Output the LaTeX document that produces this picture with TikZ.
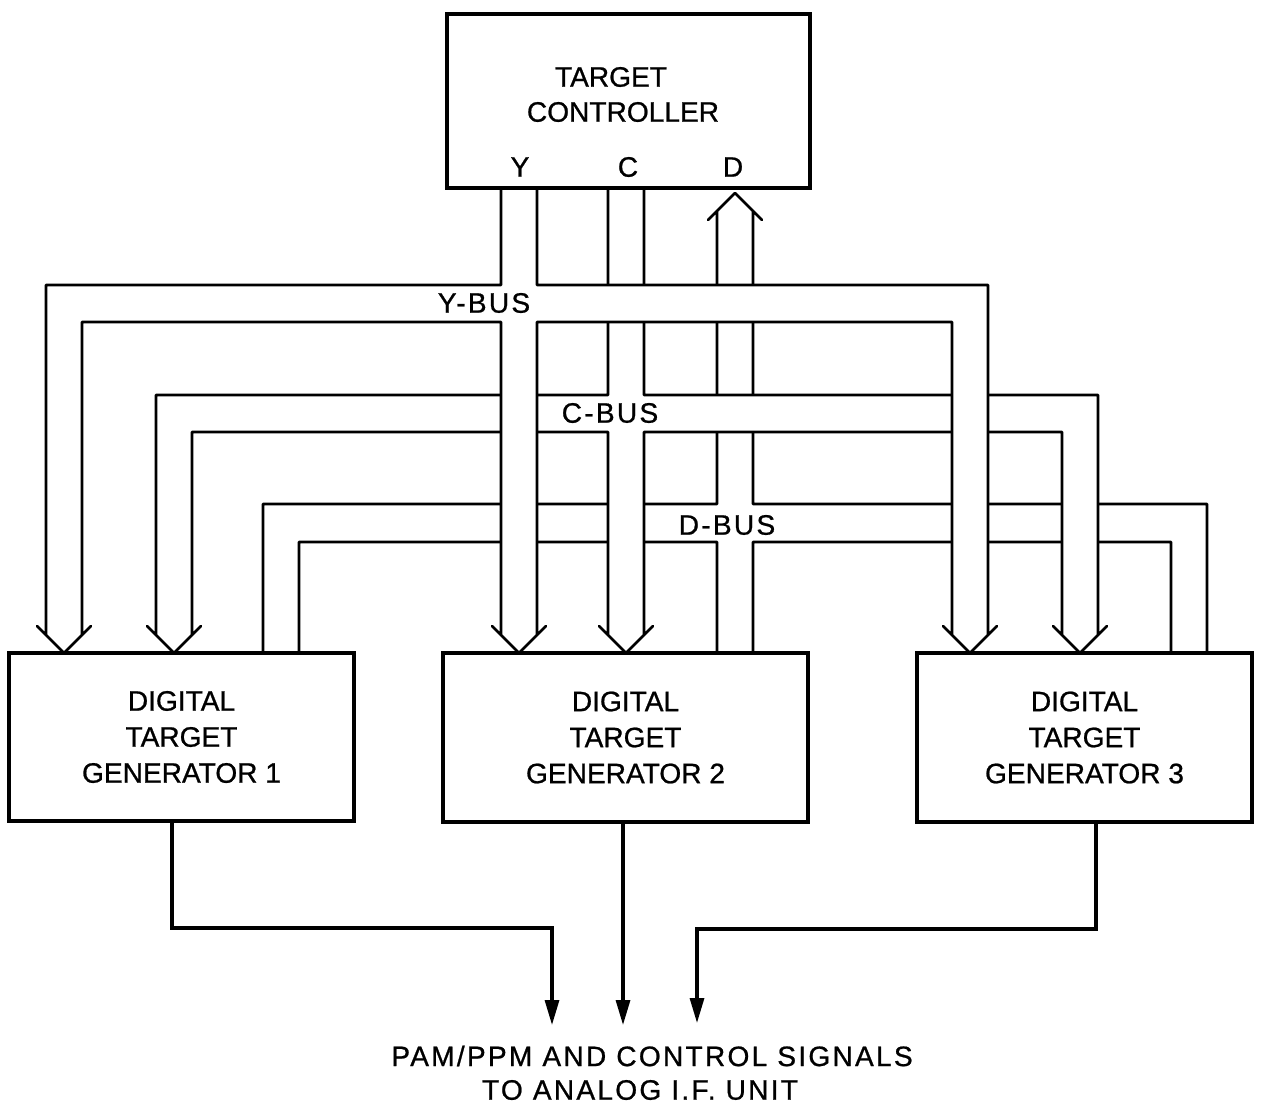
\documentclass[tikz,border=0pt]{standalone}
\usepackage{fontspec}
\setmainfont[FakeBold=0.8]{Liberation Sans}
\newfontfamily\spacedfont[LetterSpace=8,FakeBold=0.8]{Liberation Sans}
\usetikzlibrary{arrows.meta}
\begin{document}
\begin{tikzpicture}[x=0.02cm,y=-0.02cm,
  bus/.style={draw=black, fill=white, line width=1.5pt, line join=round},
  box/.style={draw=black, line width=2.5pt, inner sep=0pt},
  lbl/.style={font=\fontsize{16}{20.5}\selectfont, align=center, inner sep=0pt},
  lblsp/.style={font=\spacedfont\fontsize{16}{20}\selectfont, align=center, inner sep=0pt},
  sig/.style={draw=black, line width=1.8pt, -{Triangle[length=0.5cm,width=0.28cm]}}]
\useasboundingbox (0,0) rectangle (1266,1104);

% D-bus (drawn first, lowest)
\draw[bus] (717,653) -- (717,542) -- (299,542) -- (299,653) -- (263,653) -- (263,504)
  -- (717,504) -- (717,211) -- (708,220) -- (735,193) -- (762,220) -- (753,211)
  -- (753,504) -- (1207,504) -- (1207,653) -- (1171,653) -- (1171,542) -- (753,542)
  -- (753,653) -- cycle;

% C-bus
\draw[bus] (608,188) -- (608,395) -- (156,395)
  -- (156,635) -- (147,626) -- (174,653) -- (201,626) -- (192,635)
  -- (192,432) -- (608,432)
  -- (608,635) -- (599,626) -- (626,653) -- (653,626) -- (644,635)
  -- (644,432) -- (1062,432)
  -- (1062,635) -- (1053,626) -- (1080,653) -- (1107,626) -- (1098,635)
  -- (1098,395) -- (644,395) -- (644,188) -- cycle;

% Y-bus
\draw[bus] (501,188) -- (501,285) -- (46,285)
  -- (46,635) -- (37,626) -- (64,653) -- (91,626) -- (82,635)
  -- (82,322) -- (501,322)
  -- (501,635) -- (492,626) -- (519,653) -- (546,626) -- (537,635)
  -- (537,322) -- (952,322)
  -- (952,635) -- (943,626) -- (970,653) -- (997,626) -- (988,635)
  -- (988,285) -- (537,285) -- (537,188) -- cycle;

% boxes
\node[box, minimum width=7.26cm, minimum height=3.48cm] (ctl) at (628.5,101) {};
\node[box, lbl, minimum width=6.9cm, minimum height=3.36cm] (g1) at (181.5,737) {DIGITAL\\TARGET\\GENERATOR 1};
\node[box, lbl, minimum width=7.3cm, minimum height=3.38cm] (g2) at (625.5,737.5) {DIGITAL\\TARGET\\GENERATOR 2};
\node[box, lbl, minimum width=6.7cm, minimum height=3.38cm] (g3) at (1084.5,737.5) {DIGITAL\\TARGET\\GENERATOR 3};

% controller texts
\node[lbl] (ctltxt1) at (611,77) {TARGET};
\node[lbl] (ctltxt2) at (623,112) {CONTROLLER};
\node[lbl] (py) at (520,167) {Y};
\node[lbl] (pc) at (628,167) {C};
\node[lbl] (pd) at (733,167) {D};

% bus labels
\node[lblsp] (ybus) at (484,303) {Y-BUS};
\node[lblsp] (cbus) at (610,413) {C-BUS};
\node[lblsp] (dbus) at (727,525) {D-BUS};

% outputs
\coordinate (k1) at (172,928);
\coordinate (k3) at (1096,929);
\coordinate (t1) at (552,1025);
\coordinate (t2) at (623,1025);
\coordinate (t3) at (697,1023);
\draw[sig] (g1.south -| k1) -- (k1) -| (t1);
\draw[sig] (g2.south -| t2) -- (t2);
\draw[sig] (g3.south -| k3) -- (k3) -| (t3);

\node[lblsp] (outtxt1) at (652,1056) {PAM/PPM AND CONTROL SIGNALS};
\node[lblsp] (outtxt2) at (640,1090) {TO ANALOG I.F. UNIT};
\end{tikzpicture}
\end{document}
